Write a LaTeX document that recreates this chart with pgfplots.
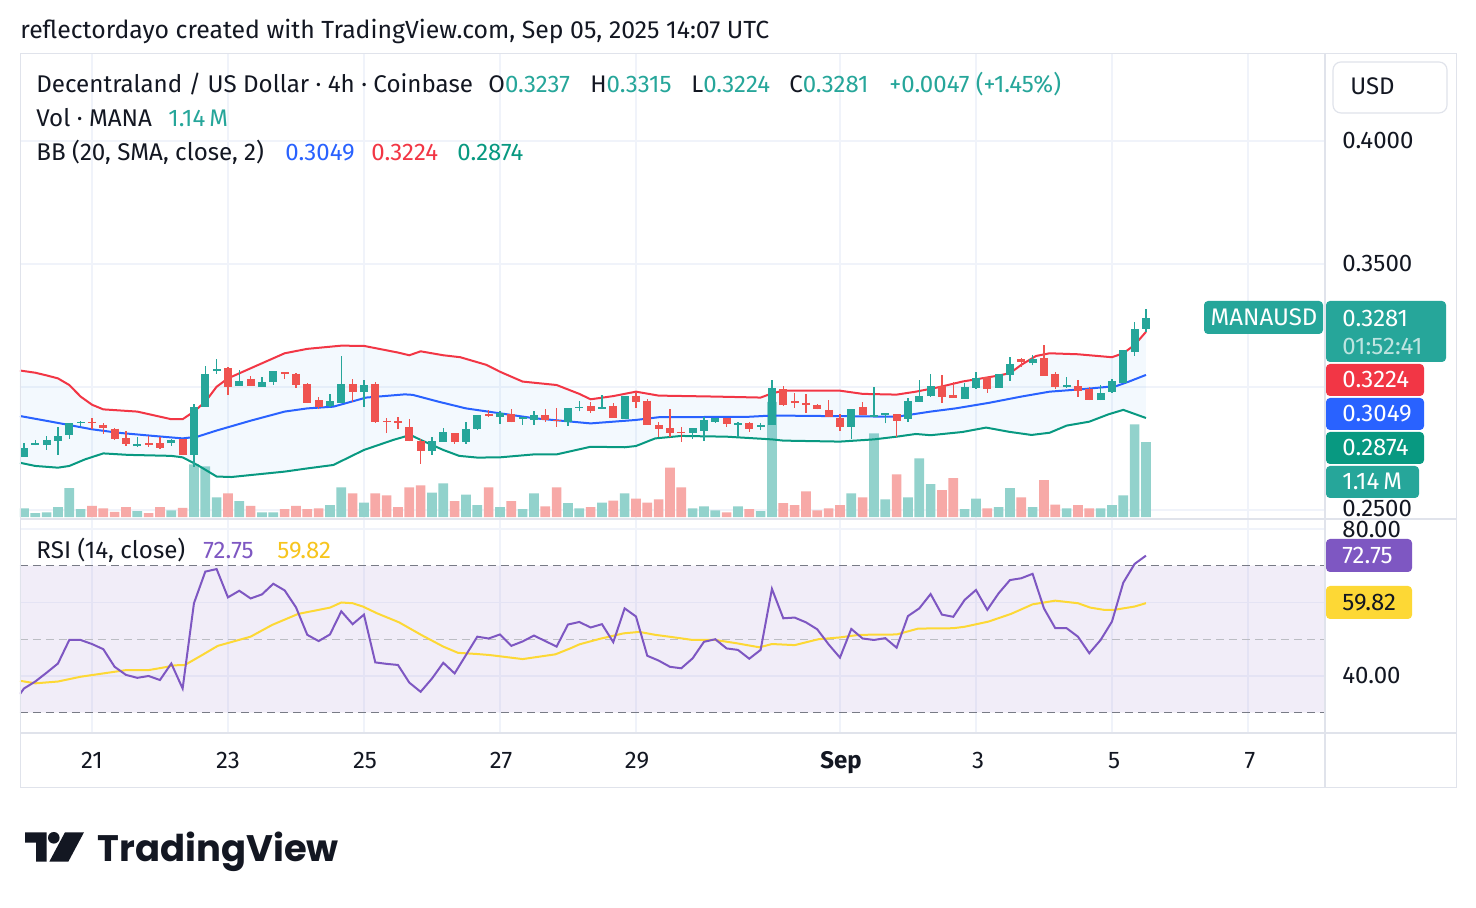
\documentclass[border=0pt]{standalone}
\usepackage{fontspec}
\setmainfont{Fira Sans}
\newfontfamily\logofont{Poppins}
\usepackage{graphicx}
\usepackage{pgfplots}
\pgfplotsset{compat=1.18}
\usepackage{pgfplotstable}

\definecolor{txt}{HTML}{131722}
\definecolor{candG}{HTML}{26A69A}
\definecolor{candR}{HTML}{EF5350}
\definecolor{volG}{HTML}{92D2CC}
\definecolor{volR}{HTML}{F7A9A7}
\definecolor{bbUp}{HTML}{F23645}
\definecolor{bbMid}{HTML}{2962FF}
\definecolor{bbLo}{HTML}{089981}
\definecolor{bbFill}{HTML}{2196F3}
\definecolor{gridc}{HTML}{F0F3FA}
\definecolor{sepc}{HTML}{E0E3EB}
\definecolor{rsiP}{HTML}{7E57C2}
\definecolor{rsiY}{HTML}{FDD835}
\definecolor{rsiYt}{HTML}{F7C51E}
\definecolor{dashc}{HTML}{787B86}

% 4h candles, x = bar index (0 = Aug 21 00:00 UTC)
\pgfplotstableread{
i O H L C V
-6 0.2717 0.2771 0.2717 0.2753 0.13
-5 0.2766 0.2785 0.2763 0.2771 0.06
-4 0.2764 0.2801 0.2744 0.2785 0.07
-3 0.2782 0.2836 0.2724 0.2801 0.15
-2 0.2806 0.2855 0.2789 0.2852 0.44
-1 0.2854 0.2863 0.2842 0.2859 0.12
4 0.2760 0.2797 0.2758 0.2767 0.09
7 0.2771 0.2790 0.2762 0.2785 0.10
9 0.2725 0.2931 0.2676 0.2917 0.80
10 0.2920 0.3085 0.2920 0.3053 0.77
11 0.3064 0.3113 0.3053 0.3072 0.30
13 0.3006 0.3069 0.3006 0.3024 0.24
15 0.3001 0.3039 0.3001 0.3020 0.07
16 0.3022 0.3064 0.3010 0.3064 0.07
21 0.2923 0.2972 0.2920 0.2943 0.18
22 0.2936 0.3126 0.2934 0.3012 0.45
24 0.2981 0.3029 0.2920 0.3008 0.22
30 0.2741 0.2796 0.2725 0.2782 0.37
31 0.2778 0.2832 0.2778 0.2816 0.51
33 0.2778 0.2859 0.2770 0.2828 0.34
34 0.2829 0.2886 0.2827 0.2886 0.18
36 0.2877 0.2903 0.2851 0.2893 0.15
38 0.2869 0.2880 0.2847 0.2877 0.12
39 0.2866 0.2903 0.2847 0.2886 0.36
42 0.2858 0.2915 0.2843 0.2915 0.21
43 0.2915 0.2943 0.2901 0.2920 0.13
45 0.2912 0.2968 0.2912 0.2917 0.22
47 0.2870 0.2964 0.2870 0.2964 0.36
53 0.2814 0.2832 0.2790 0.2832 0.13
54 0.2823 0.2877 0.2782 0.2866 0.16
55 0.2859 0.2875 0.2855 0.2875 0.10
57 0.2847 0.2858 0.2796 0.2854 0.16
59 0.2838 0.2852 0.2825 0.2846 0.09
60 0.2846 0.3029 0.2846 0.2995 1.75
67 0.2839 0.2911 0.2789 0.2911 0.36
69 0.2877 0.2999 0.2877 0.2886 1.27
70 0.2887 0.2893 0.2852 0.2893 0.27
72 0.2870 0.2954 0.2859 0.2943 0.30
73 0.2940 0.3029 0.2940 0.2963 0.89
74 0.2963 0.3053 0.2961 0.3004 0.50
77 0.2953 0.3015 0.2953 0.2999 0.12
78 0.2996 0.3061 0.2993 0.3035 0.28
80 0.2997 0.3053 0.2997 0.3053 0.15
81 0.3050 0.3123 0.3026 0.3094 0.44
83 0.3096 0.3129 0.3088 0.3113 0.15
86 0.2999 0.3042 0.2995 0.3007 0.13
89 0.2947 0.3008 0.2947 0.2974 0.13
90 0.2981 0.3031 0.2977 0.3026 0.18
91 0.3015 0.3150 0.3015 0.3150 0.33
92 0.3144 0.3264 0.3127 0.3236 1.41
93 0.3237 0.3315 0.3224 0.3281 1.14
}\greenbars

\pgfplotstableread{
i O H L C V
0 0.2859 0.2874 0.2828 0.2852 0.17
1 0.2846 0.2854 0.2810 0.2832 0.13
2 0.2831 0.2833 0.2785 0.2789 0.08
3 0.2791 0.2823 0.2760 0.2767 0.15
5 0.2771 0.2801 0.2758 0.2764 0.06
6 0.2771 0.2798 0.2747 0.2753 0.15
8 0.2790 0.2790 0.2724 0.2725 0.14
12 0.3077 0.3080 0.2968 0.2999 0.36
14 0.3033 0.3043 0.3006 0.3006 0.17
17 0.3060 0.3060 0.3033 0.3054 0.12
18 0.3054 0.3057 0.2997 0.3010 0.17
19 0.3012 0.3015 0.2934 0.2936 0.12
20 0.2947 0.2958 0.2909 0.2920 0.13
23 0.3012 0.3033 0.2940 0.2978 0.36
25 0.3012 0.3022 0.2855 0.2859 0.36
26 0.2863 0.2873 0.2812 0.2858 0.33
27 0.2861 0.2877 0.2831 0.2855 0.15
28 0.2836 0.2869 0.2779 0.2782 0.45
29 0.2782 0.2787 0.2688 0.2741 0.48
32 0.2812 0.2812 0.2770 0.2778 0.24
35 0.2890 0.2907 0.2877 0.2882 0.45
37 0.2890 0.2909 0.2856 0.2856 0.24
40 0.2886 0.2911 0.2859 0.2866 0.16
41 0.2866 0.2915 0.2839 0.2861 0.45
44 0.2923 0.2939 0.2896 0.2904 0.15
46 0.2923 0.2934 0.2875 0.2875 0.25
48 0.2965 0.2977 0.2916 0.2940 0.28
49 0.2945 0.2950 0.2846 0.2846 0.22
50 0.2846 0.2858 0.2796 0.2831 0.27
51 0.2833 0.2911 0.2796 0.2814 0.75
52 0.2819 0.2836 0.2778 0.2812 0.45
56 0.2875 0.2875 0.2839 0.2851 0.07
58 0.2854 0.2859 0.2819 0.2831 0.12
61 0.2991 0.3004 0.2923 0.2928 0.21
62 0.2943 0.2977 0.2915 0.2934 0.18
63 0.2936 0.2972 0.2896 0.2926 0.39
64 0.2927 0.2931 0.2909 0.2909 0.10
65 0.2907 0.2947 0.2877 0.2877 0.13
66 0.2873 0.2890 0.2823 0.2836 0.18
68 0.2917 0.2939 0.2885 0.2885 0.30
71 0.2890 0.2890 0.2795 0.2863 0.65
75 0.3004 0.3047 0.2934 0.2961 0.41
76 0.2966 0.3020 0.2957 0.2957 0.59
79 0.3039 0.3039 0.2977 0.2993 0.13
82 0.3113 0.3118 0.3083 0.3102 0.30
84 0.3118 0.3171 0.3046 0.3046 0.56
85 0.3053 0.3061 0.2991 0.2999 0.19
87 0.3004 0.3029 0.2961 0.2985 0.18
88 0.2991 0.2999 0.2947 0.2947 0.13
}\redbars

\pgfplotstableread{
x y
-6.35 0.3067
-5 0.3058
-4 0.3047
-3 0.3035
-2 0.3008
-1 0.2961
0 0.2928
1 0.2909
4 0.2900
7 0.2869
8 0.2869
9 0.2900
10 0.2940
11 0.3001
12 0.3035
14 0.3076
17 0.3137
19 0.3155
22 0.3168
24 0.3167
27 0.3140
28 0.3129
29 0.3145
31 0.3129
32.5 0.3121
34.8 0.3090
36 0.3062
38 0.3022
41 0.3008
43 0.2972
44 0.2950
46 0.2963
48 0.2981
50 0.2965
55 0.2961
59 0.2957
60 0.2974
61 0.2985
66 0.2985
68 0.2972
71 0.2969
72.7 0.2981
74.7 0.2999
76.8 0.3022
79.8 0.3045
81 0.3056
82 0.3090
83.3 0.3126
84.5 0.3137
87 0.3133
90 0.3121
91 0.3137
92 0.3171
93 0.3224
}\bbup

\pgfplotstableread{
x y
-6.35 0.2882
-3.6 0.2859
0 0.2828
2.3 0.2814
5.2 0.2802
8 0.2791
9.3 0.2798
11 0.2823
14 0.2863
17 0.2900
19 0.2913
21.3 0.2920
24.2 0.2957
27.6 0.2970
28.3 0.2968
30.6 0.2940
33 0.2913
36 0.2893
39 0.2873
44 0.2852
48 0.2866
50 0.2877
58 0.2879
60 0.2884
69 0.2880
71 0.2879
74 0.2900
76.2 0.2913
79.2 0.2936
82 0.2961
84.5 0.2981
87.4 0.2991
90.4 0.3004
91.5 0.3022
93 0.3049
}\bbmid

\pgfplotstableread{
x y
-6.35 0.2692
-5 0.2679
-3 0.2672
-2 0.2679
-0.6 0.2706
1 0.2730
3.2 0.2724
7 0.2720
8 0.2714
9.3 0.2683
11 0.2636
12.3 0.2634
14 0.2642
17 0.2656
19 0.2669
21.3 0.2683
24 0.2744
26.6 0.2785
28.1 0.2805
29 0.2785
31 0.2744
32.4 0.2720
34 0.2713
36 0.2714
39 0.2726
41 0.2726
44 0.2757
47 0.2755
48 0.2760
49.7 0.2791
52 0.2801
56 0.2798
60 0.2787
61 0.2782
66 0.2778
69 0.2787
71 0.2798
72.7 0.2809
74 0.2804
76.8 0.2817
78.9 0.2835
80.9 0.2818
82.9 0.2805
84.5 0.2814
86 0.2843
88 0.2859
89.7 0.2889
91 0.2907
93 0.2874
}\bblo

% band outline: upper band left to right, then lower band right to left
\pgfplotstableread{
x y
-6.35 0.3067
-3 0.3035
-2 0.3008
-1 0.2961
0 0.2928
1 0.2909
4 0.2900
7 0.2869
8 0.2869
9 0.2900
10 0.2940
11 0.3001
12 0.3035
14 0.3076
17 0.3137
19 0.3155
22 0.3168
24 0.3167
27 0.3140
28 0.3129
29 0.3145
31 0.3129
32.5 0.3121
34.8 0.3090
36 0.3062
38 0.3022
41 0.3008
43 0.2972
44 0.2950
46 0.2963
48 0.2981
50 0.2965
55 0.2961
59 0.2957
60 0.2974
61 0.2985
66 0.2985
68 0.2972
71 0.2969
72.7 0.2981
74.7 0.2999
76.8 0.3022
79.8 0.3045
81 0.3056
82 0.3090
83.3 0.3126
84.5 0.3137
87 0.3133
90 0.3121
91 0.3137
92 0.3171
93 0.3224
93 0.2874
91 0.2907
89.7 0.2889
88 0.2859
86 0.2843
84.5 0.2814
82.9 0.2805
80.9 0.2818
78.9 0.2835
76.8 0.2817
74 0.2804
72.7 0.2809
71 0.2798
69 0.2787
66 0.2778
61 0.2782
60 0.2787
56 0.2798
52 0.2801
49.7 0.2791
48 0.2760
47 0.2755
44 0.2757
41 0.2726
39 0.2726
36 0.2714
34 0.2713
32.4 0.2720
31 0.2744
29 0.2785
28.1 0.2805
26.6 0.2785
24 0.2744
21.3 0.2683
19 0.2669
17 0.2656
14 0.2642
12.3 0.2634
11 0.2636
9.3 0.2683
8 0.2714
7 0.2720
3.2 0.2724
1 0.2730
-0.6 0.2706
-2 0.2679
-3 0.2672
-5 0.2679
-6.35 0.2692
}\bbband

\pgfplotstableread{
x y
-6.35 35.1
-6 36.6
-5 38.5
-4 40.9
-3 43.4
-2 49.8
-1 49.8
0 48.7
1 47.3
2 42.5
3 40.3
4 39.5
5 40.0
6 38.9
7 43.4
8 36.6
9 59.8
10 68.4
11 69.1
12 61.4
13 63.2
14 61.1
15 62.2
16 65.1
17 63.3
18 58.7
19 51.2
20 49.5
21 51.3
22 57.6
23 54.1
24 56.7
25 43.7
26 43.3
27 43.0
28 38.2
29 35.7
30 39.3
31 43.6
32 40.7
33 45.7
34 50.7
35 50.2
36 51.3
37 48.2
38 49.4
39 51.0
40 49.5
41 48.0
42 54.0
43 54.7
44 53.2
45 54.1
46 49.2
47 58.4
48 56.2
49 45.5
50 44.2
51 42.5
52 42.1
53 44.8
54 49.3
55 50.0
56 47.5
57 47.1
58 44.7
59 47.1
60 63.7
61 55.7
62 55.9
63 54.6
64 52.7
65 48.6
66 45.0
67 52.8
68 50.2
69 49.8
70 50.3
71 47.7
72 56.3
73 58.4
74 62.3
75 56.7
76 56.1
77 60.7
78 63.4
79 58.0
80 62.5
81 66.1
82 66.6
83 67.8
84 58.4
85 53.0
86 53.0
87 50.7
88 46.2
89 49.8
90 54.8
91 65.4
92 70.5
93 72.75
}\rsi

\pgfplotstableread{
x y
-6.35 38.7
-5 38.0
-3 38.5
-1 39.8
1 40.7
3 41.6
5 41.6
6.3 42.3
7.3 42.9
8.2 43.0
9.5 45.3
11.1 48.2
14 50.7
15.9 53.9
18.2 56.9
21 58.6
22 60.0
23 59.8
23.9 58.9
25.2 57.0
27.1 54.6
29.1 51.1
31 48.0
32.3 46.3
33.9 46.0
35.1 45.7
38 44.6
40.9 45.9
42.2 47.5
43 48.6
44.8 50.1
46.9 51.6
48.3 52.0
49.7 51.2
51.4 50.5
53 49.8
55 49.8
56.9 48.9
58.9 47.8
60 48.7
62 48.4
64.1 50.0
66 50.5
67.7 51.2
71 51.3
72.9 52.9
76 53.0
77 53.4
79.1 54.8
81.1 56.9
83 59.5
85 60.5
87 59.8
88.1 58.6
89.3 58.0
90.2 58.0
92 58.9
93 59.82
}\rsima

\pgfplotsset{tvpane/.style={
  scale only axis, width=652.5pt, xmin=-6.35, xmax=108.8,
  anchor=south west,
  axis line style={draw=none}, tick style={draw=none},
  xtick={0,12,24,36,48,66,78,90,102}, xticklabels={}, yticklabels={},
  major grid style={draw=gridc, line width=0.6pt},
  clip=true}}

\tikzset{lbl/.style={inner sep=0pt, anchor=base west, text=txt,
  font=\fontsize{12pt}{14pt}\selectfont},
  lblw/.style={lbl, font=\fontsize{12.08pt}{14pt}\selectfont}}

\begin{document}
\begin{tikzpicture}[x=0.5pt,y=0.5pt]
\path[use as bounding box, fill=white] (0,0) rectangle (1476,908);

% price pane grid
\begin{axis}[tvpane, at={(10pt,194.5pt)}, height=232.5pt,
  ymin=0.24634, ymax=0.43537, ytick={0.25,0.30,0.35,0.40},
  xmajorgrids, ymajorgrids]
\addplot[draw=none] coordinates {(0,0.3)};
\end{axis}

% volume
\begin{axis}[tvpane, at={(10pt,194.5pt)}, height=232.5pt,
  ymin=-0.03, ymax=7.04, ytick={0}]
\addplot[ybar, bar width=4.85pt, bar shift=0pt, fill=volG, draw=none] table[x=i,y=V]{\greenbars};
\addplot[ybar, bar width=4.85pt, bar shift=0pt, fill=volR, draw=none] table[x=i,y=V]{\redbars};
\end{axis}

% price: Bollinger bands and candles
\begin{axis}[tvpane, at={(10pt,194.5pt)}, height=232.5pt,
  ymin=0.24634, ymax=0.43537, ytick={0.3}]
\addplot[fill=bbFill, fill opacity=0.05, draw=none] table[x=x,y=y]{\bbband};
\addplot[bbUp, line width=1pt] table[x=x,y=y]{\bbup};
\addplot[bbLo, line width=1pt] table[x=x,y=y]{\bblo};
\addplot[bbMid, line width=1pt] table[x=x,y=y]{\bbmid};
\addplot[candG, line width=0.75pt, -, quiver={u=0, v=\thisrow{H}-\thisrow{L}}]
  table[x=i, y=L]{\greenbars};
\addplot[candR, line width=0.75pt, -, quiver={u=0, v=\thisrow{H}-\thisrow{L}}]
  table[x=i, y=L]{\redbars};
\addplot[candG, line width=4pt, -, quiver={u=0, v=\thisrow{C}-\thisrow{O}}]
  table[x=i, y=O]{\greenbars};
\addplot[candR, line width=4pt, -, quiver={u=0, v=\thisrow{C}-\thisrow{O}}]
  table[x=i, y=O]{\redbars};
\end{axis}

% RSI pane
\begin{axis}[tvpane, at={(10pt,87.5pt)}, height=107pt,
  ymin=24.49, ymax=82.72, ytick={40,60,80}, xmajorgrids, ymajorgrids]
\addplot[draw=none, fill=rsiP, fill opacity=0.1] coordinates {(-6.35,30) (108.8,30) (108.8,70) (-6.35,70) (-6.35,30)};
\addplot[dashc, line width=0.7pt, dash pattern=on 4pt off 2.5pt] coordinates {(-6.35,70) (108.8,70)};
\addplot[dashc, line width=0.7pt, dash pattern=on 4pt off 2.5pt] coordinates {(-6.35,30) (108.8,30)};
\addplot[dashc!50, line width=0.7pt, dash pattern=on 4pt off 2.5pt] coordinates {(-6.35,50) (108.8,50)};
\addplot[rsiY, line width=1pt] table[x=x,y=y]{\rsima};
\addplot[rsiP, line width=1pt] table[x=x,y=y]{\rsi};
\end{axis}

% frame and separators
\draw[sepc, line width=0.5pt] (20,908-54) rectangle (1456,908-788);
\draw[sepc, line width=1pt] (20,908-519) -- (1456,908-519);
\draw[sepc, line width=1pt] (20,908-733) -- (1456,908-733);
\draw[sepc, line width=1pt] (1325,908-54) -- (1325,908-788);

% header
\node[lbl, font=\fontsize{12.4pt}{14pt}\selectfont] at (20,908-39) {reflectordayo created with TradingView.com, Sep 05, 2025 14:07 UTC};

% legend
\node[lblw] at (36,908-93) {Decentraland / US Dollar · 4h · Coinbase};
\node[lbl] at (488,908-93) {O\textcolor{candG}{0.3237}};
\node[lbl] at (590,908-93) {H\textcolor{candG}{0.3315}};
\node[lbl] at (691,908-93) {L\textcolor{candG}{0.3224}};
\node[lbl] at (789,908-93) {C\textcolor{candG}{0.3281}};
\node[lbl, text=candG] at (889,908-93) {+0.0047 (+1.45\%)};
\node[lblw] at (36,908-127) {Vol · MANA};
\node[lbl, text=candG] at (168,908-127) {1.14\,M};
\node[lblw] at (36,908-161) {BB (20, SMA, close, 2)};
\node[lbl, text=bbMid] at (285,908-161) {0.3049};
\node[lbl, text=bbUp] at (371,908-161) {0.3224};
\node[lbl, text=bbLo] at (457,908-161) {0.2874};
\node[lblw] at (36,908-559) {RSI (14, close)};
\node[lbl, text=rsiP] at (203,908-559) {72.75};
\node[lbl, text=rsiYt] at (277,908-559) {59.82};

% right scale
\draw[sepc, line width=0.6pt, rounded corners=4pt] (1333,908-62) rectangle (1447,908-113);
\node[lbl] at (1350,908-95) {USD};
\node[lbl] at (1342,908-149) {0.4000};
\node[lbl] at (1342,908-272) {0.3500};
\node[lbl] at (1342,908-517) {0.2500};
\node[lbl] at (1342,908-538) {80.00};
\node[lbl] at (1342,908-684) {40.00};

\fill[candG, rounded corners=2pt] (1204,908-301) rectangle (1323,908-334);
\node[lbl, anchor=base, text=white] at (1264,908-326) {MANAUSD};
\fill[candG, rounded corners=2pt] (1326,908-301) rectangle (1446,908-362);
\node[lbl, text=white] at (1342,908-327) {0.3281};
\node[lbl, text=white, text opacity=0.7] at (1342,908-355) {01:52:41};
\fill[bbUp, rounded corners=2pt] (1326,908-364) rectangle (1424,908-396);
\node[lbl, text=white] at (1342,908-388) {0.3224};
\fill[bbMid, rounded corners=2pt] (1326,908-398) rectangle (1424,908-430);
\node[lbl, text=white] at (1342,908-422) {0.3049};
\fill[bbLo, rounded corners=2pt] (1326,908-432) rectangle (1424,908-464);
\node[lbl, text=white] at (1342,908-456) {0.2874};
\fill[candG, rounded corners=2pt] (1326,908-466) rectangle (1419,908-498);
\node[lbl, text=white] at (1342,908-490) {1.14\,M};
\fill[rsiP, rounded corners=2pt] (1326,908-539) rectangle (1412,908-572);
\node[lbl, text=white] at (1342,908-564) {72.75};
\fill[rsiY, rounded corners=2pt] (1326,908-586) rectangle (1412,908-619);
\node[lbl] at (1342,908-611) {59.82};

% time axis
\foreach \xx/\tt in {92/21,228/23,365/25,501/27,637/29,978/3,1114/5,1250/7}
  \node[lbl, anchor=base] at (\xx,908-769) {\tt};
\node[lbl, anchor=base] at (841,908-769) {\bfseries Sep};

% TradingView logo
\fill[txt] (25,908-832.3) -- (46.7,908-832.3) -- (46.7,908-861.7) -- (36,908-861.7) -- (36,908-842.7) -- (25,908-842.7) -- cycle;
\fill[txt] (53.8,908-837.8) circle (2.9pt);
\fill[txt] (65,908-832.3) -- (84,908-832.3) -- (68.3,908-861.7) -- (49.3,908-861.7) -- cycle;
\node[inner sep=0pt, anchor=base west, text=txt] at (97.5,908-861.7) {\resizebox{120.5pt}{!}{\logofont\bfseries TradingView}};
\end{tikzpicture}
\end{document}
